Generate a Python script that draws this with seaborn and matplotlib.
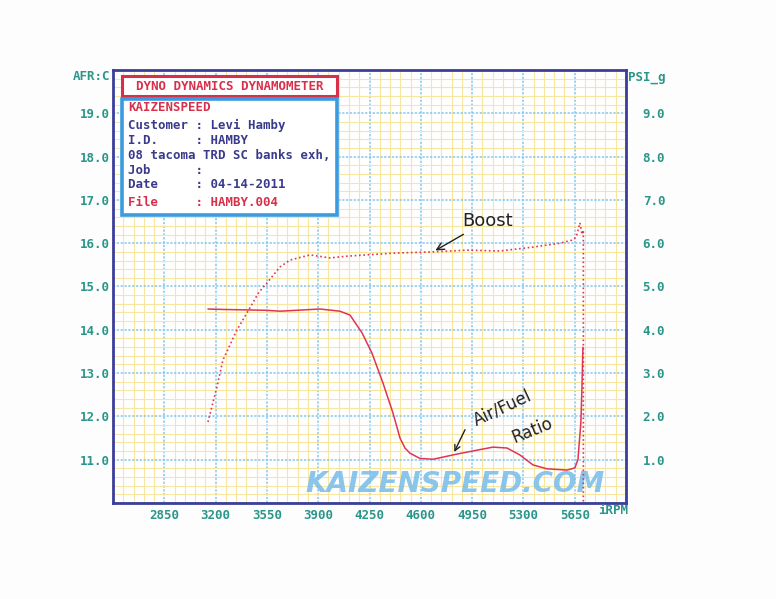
import numpy as np
import pandas as pd
import seaborn as sns
import matplotlib.pyplot as plt
from matplotlib.patches import Rectangle

# --- data ---
afr_rpm = [3148, 3250, 3400, 3550, 3639, 3750, 3912, 4048, 4117, 4199, 4267, 4342,
           4410, 4458, 4492, 4526, 4594, 4683, 4847, 4983, 5092, 5188, 5276, 5365,
           5460, 5597, 5651, 5672, 5692, 5699, 5706]
afr = [14.48, 14.47, 14.46, 14.45, 14.43, 14.45, 14.48, 14.43, 14.34, 13.93, 13.46, 12.77,
       12.08, 11.50, 11.27, 11.15, 11.03, 11.01, 11.13, 11.22, 11.29, 11.27, 11.11, 10.88,
       10.79, 10.76, 10.81, 11.00, 11.85, 12.61, 13.60]

boost_rpm = [3148, 3209, 3250, 3346, 3414, 3496, 3550, 3639, 3707, 3844, 3980, 4096,
             4233, 4410, 4683, 4915, 5140, 5365, 5549, 5631, 5660, 5686, 5700, 5709, 5709]
boost = [1.87, 2.68, 3.30, 4.00, 4.39, 4.87, 5.08, 5.45, 5.61, 5.73, 5.66, 5.70,
         5.73, 5.77, 5.80, 5.84, 5.82, 5.91, 6.00, 6.07, 6.14, 6.47, 6.20, 6.30, 0.0]

rpm_ticks = [2850, 3200, 3550, 3900, 4250, 4600, 4950, 5300, 5650]
afr_ticks = [11.0, 12.0, 13.0, 14.0, 15.0, 16.0, 17.0, 18.0, 19.0]
psi_ticks = [1.0, 2.0, 3.0, 4.0, 5.0, 6.0, 7.0, 8.0, 9.0]

info_lines = ["KAIZENSPEED",
              "Customer : Levi Hamby",
              "I.D.     : HAMBY",
              "08 tacoma TRD SC banks exh,",
              "Job      :",
              "Date     : 04-14-2011",
              "File     : HAMBY.004"]

df_afr = pd.DataFrame({"rpm": afr_rpm, "afr": afr})
df_boost = pd.DataFrame({"rpm": boost_rpm, "psi": boost})

W, H = 776, 599
def fx(x): return x / W
def fy(y): return 1 - y / H

TEAL = "#2a968a"
NAVY = "#3b3f99"
RED = "#e03552"
BOXRED = "#d8304a"
BOXBLUE = "#3a9be0"
mono = dict(family="DejaVu Sans Mono", weight="bold")

sns.set_style("white")
fig = plt.figure(figsize=(W / 100, H / 100), dpi=100, facecolor="#fdfdfd")
ax = fig.add_axes([fx(113), fy(503), (626 - 113) / W, (503 - 70) / H])
ax.set_facecolor("white")

ax.set_xlim(2500, 6000)
ax.set_ylim(10, 20)
ax.set_xticks(np.arange(2500, 6001, 350))
ax.set_yticks(np.arange(10, 20.01, 1.0))
ax.set_xticks(np.arange(2500, 6001, 70), minor=True)
ax.set_yticks(np.arange(10, 20.01, 0.2), minor=True)
ax.grid(which="minor", color="#f7e6a0", lw=0.8, ls="-")
ax.grid(which="major", color="#86c6ec", lw=1.1, ls=(0, (1.5, 1)))
ax.set_axisbelow(True)
ax.set_xticklabels([f"{t}" if t in rpm_ticks else "" for t in np.arange(2500, 6001, 350)])
ax.set_yticklabels([f"{t:.1f}" if 10.5 < t < 19.5 else "" for t in np.arange(10, 20.01, 1.0)])
ax.tick_params(which="both", length=0)
ax.tick_params(axis="x", pad=4, labelcolor=TEAL, labelsize=9)
ax.tick_params(axis="y", pad=2, labelcolor=TEAL, labelsize=9)
for lab in ax.get_xticklabels() + ax.get_yticklabels():
    lab.set(**mono)
for s in ax.spines.values():
    s.set_color(NAVY)
    s.set_linewidth(2)

# watermark sits under the curves
ax.text(0.666, 0.045, "KAIZENSPEED.COM", transform=ax.transAxes, color="#7dbfea",
        fontsize=20, style="italic", weight="bold", ha="center", va="center",
        alpha=0.9, zorder=1.5)

sns.lineplot(data=df_afr, x="rpm", y="afr", ax=ax, color=RED, lw=1.1,
             estimator=None, sort=False, zorder=3)
ax.set_xlabel("")
ax.set_ylabel("")

ax2 = ax.twinx()
ax2.set_ylim(0, 10)
sns.lineplot(data=df_boost, x="rpm", y="psi", ax=ax2, color=RED, lw=1.2,
             ls=(0, (1, 1.6)), estimator=None, sort=False)
ax2.set_ylabel("")
ax2.set_yticks(np.arange(0, 10.01, 1.0))
ax2.set_yticklabels([f"{t:.1f}" if t in psi_ticks else "" for t in np.arange(0, 10.01, 1.0)])
ax2.tick_params(length=0, pad=12, labelcolor=TEAL, labelsize=9)
for lab in ax2.get_yticklabels():
    lab.set(**mono)
for s in ax2.spines.values():
    s.set_visible(False)
ax2.grid(False)
ax.set_xlim(2500, 6000)

# axis captions
fig.text(fx(73), fy(77), "AFR:C", color=TEAL, fontsize=9, va="center", ha="left", **mono)
fig.text(fx(628), fy(77), "PSI_g", color=TEAL, fontsize=9, va="center", ha="left", **mono)
fig.text(fx(598), fy(511), "iRPM", color=TEAL, fontsize=9, va="center", ha="left", **mono)

# header boxes
fig.add_artist(Rectangle((fx(122), fy(96)), (337 - 122) / W, 20 / H, transform=fig.transFigure,
                         facecolor="white", edgecolor=BOXRED, lw=2.2, zorder=5))
fig.text(fx(230), fy(86), "DYNO DYNAMICS DYNAMOMETER", color=BOXRED, fontsize=9,
         ha="center", va="center", zorder=6, **mono)
fig.add_artist(Rectangle((fx(122), fy(215)), (337 - 122) / W, 116 / H, transform=fig.transFigure,
                         facecolor="white", edgecolor=BOXBLUE, lw=2.6, zorder=5))
line_y = [108, 125, 140, 155, 170, 185, 203]
for txt, yy in zip(info_lines, line_y):
    col = BOXRED if txt.startswith(("KAIZEN", "File")) else "#3a3a8c"
    fig.text(fx(128), fy(yy), txt, color=col, fontsize=8.9, ha="left", va="center",
             zorder=6, **mono)

# handwritten notes
ax.annotate("Boost", xy=(4683, 15.80), xytext=(4880, 16.52), color="#222222",
            fontsize=13, ha="left", va="center",
            arrowprops=dict(arrowstyle="->", color="#222222", lw=1.0))
ax.annotate("", xy=(4820, 11.12), xytext=(4910, 11.75),
            arrowprops=dict(arrowstyle="->", color="#222222", lw=1.0))
ax.text(4940, 11.70, "Air/Fuel", color="#222222", fontsize=12, rotation=25,
        ha="left", va="bottom")
ax.text(5200, 11.30, "Ratio", color="#222222", fontsize=12, rotation=22,
        ha="left", va="bottom")

fig.savefig("out.png", dpi=100, facecolor=fig.get_facecolor())
